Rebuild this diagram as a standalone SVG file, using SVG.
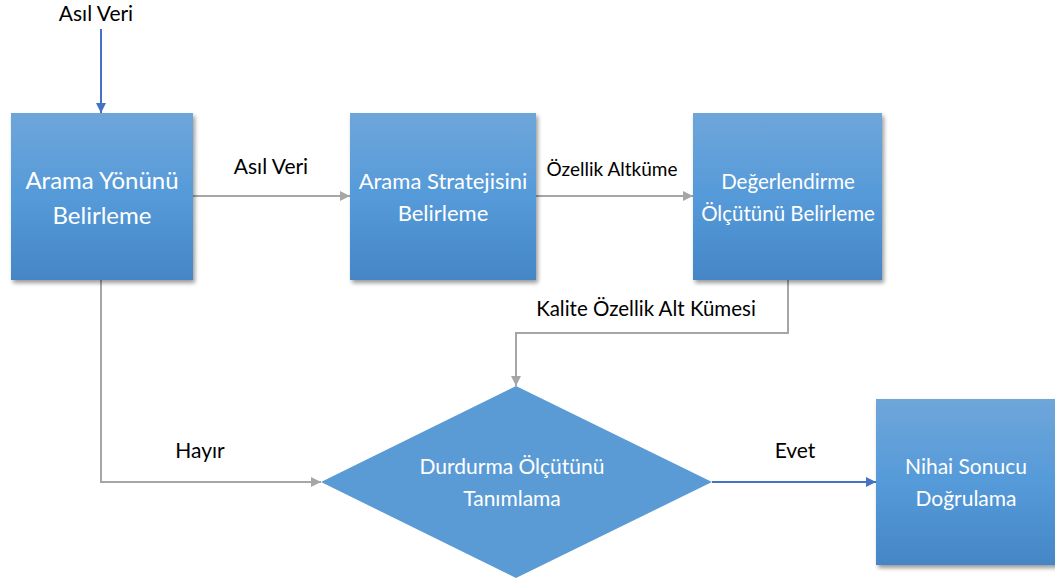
<svg xmlns="http://www.w3.org/2000/svg" width="1055" height="582" viewBox="0 0 1055 582">
  <style>
    .box { fill: url(#boxGrad); filter: url(#shadow); }
    .node-text { font-family: Lato, "Open Sans", "Liberation Sans", sans-serif; font-size: 21px; fill: #ffffff; text-anchor: middle; }
    .label { font-family: Lato, "Open Sans", "Liberation Sans", sans-serif; font-size: 21px; fill: #000000; text-anchor: middle; }
    .gray { fill: none; stroke: #a6a6a6; stroke-width: 2; marker-end: url(#arrowGray); }
    .blue { fill: none; stroke: #4472c4; stroke-width: 2; marker-end: url(#arrowBlue); }
  </style>
  <defs>
    <linearGradient id="boxGrad" x1="0" y1="0" x2="0" y2="1">
      <stop offset="0" stop-color="#6ea6da"/>
      <stop offset="0.5" stop-color="#559ad9"/>
      <stop offset="1" stop-color="#4586c6"/>
    </linearGradient>
    <filter id="shadow" x="-10%" y="-10%" width="130%" height="130%">
      <feGaussianBlur in="SourceAlpha" stdDeviation="2"/>
      <feOffset dx="2" dy="3" result="b"/>
      <feComponentTransfer><feFuncA type="linear" slope="0.4"/></feComponentTransfer>
      <feMerge><feMergeNode/><feMergeNode in="SourceGraphic"/></feMerge>
    </filter>
    <marker id="arrowGray" viewBox="0 0 10 10" refX="10" refY="5" markerWidth="5" markerHeight="5" orient="auto">
      <path d="M0,0 L10,5 L0,10 z" fill="#a6a6a6"/>
    </marker>
    <marker id="arrowBlue" viewBox="0 0 10 10" refX="10" refY="5" markerWidth="5" markerHeight="5" orient="auto">
      <path d="M0,0 L10,5 L0,10 z" fill="#4472c4"/>
    </marker>
  </defs>
  <rect width="1055" height="582" fill="#ffffff"/>

  <g id="connectors">
    <path class="blue" d="M101,29 L101,113"/>
    <path class="gray" d="M193,196 L350,196"/>
    <path class="gray" d="M536,196 L693,196"/>
    <path class="gray" d="M788,280 L788,333 L516,333 L516,386"/>
    <path class="gray" d="M101,280 L101,482 L321,482"/>
    <path class="blue" d="M712,482 L876,482"/>
    <text class="label" x="96" y="21">Asıl Veri</text>
    <text class="label" x="271" y="174">Asıl Veri</text>
    <text class="label" x="612" y="176" style="font-size:19px">Özellik Altküme</text>
    <text class="label" x="646" y="316" style="font-size:20.5px">Kalite Özellik Alt Kümesi</text>
    <text class="label" x="200" y="458">Hayır</text>
    <text class="label" x="795" y="458">Evet</text>
  </g>

  <g id="node-arama-yonu">
    <rect class="box" x="11" y="113" width="182" height="167"/>
    <text class="node-text" x="102" y="189" style="font-size:24px">Arama Yönünü</text>
    <text class="node-text" x="102" y="224" style="font-size:24px">Belirleme</text>
  </g>

  <g id="node-arama-stratejisi">
    <rect class="box" x="350" y="113" width="186" height="167"/>
    <text class="node-text" x="443" y="189" style="font-size:22px">Arama Stratejisini</text>
    <text class="node-text" x="443" y="221" style="font-size:22px">Belirleme</text>
  </g>

  <g id="node-degerlendirme">
    <rect class="box" x="693" y="113" width="189" height="167"/>
    <text class="node-text" x="788" y="189" style="font-size:20.5px">Değerlendirme</text>
    <text class="node-text" x="788" y="221" style="font-size:20.5px">Ölçütünü Belirleme</text>
  </g>

  <g id="node-durdurma">
    <polygon points="516,386 712,482 516,578 321,482" fill="#5b9bd5"/>
    <text class="node-text" x="512" y="474">Durdurma Ölçütünü</text>
    <text class="node-text" x="512" y="506">Tanımlama</text>
  </g>

  <g id="node-nihai">
    <rect class="box" x="876" y="399" width="182" height="166"/>
    <text class="node-text" x="966" y="474">Nihai Sonucu</text>
    <text class="node-text" x="966" y="506">Doğrulama</text>
  </g>
</svg>
